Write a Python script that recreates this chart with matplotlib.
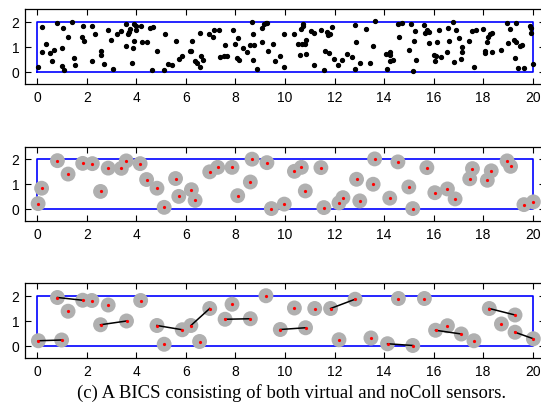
import matplotlib
matplotlib.use("Agg")
import matplotlib.pyplot as plt
import numpy as np
from matplotlib.patches import Circle

# --- panel 1: all random sensors ---
all_x = [0.03, 0.2, 0.19, 0.34, 0.5, 0.67, 0.6, 0.78, 0.99, 1.02, 0.98, 1.09, 1.24, 1.41,
         1.48, 1.53, 1.79, 1.84, 1.87, 2.22, 2.19, 2.34, 2.55, 2.55, 2.69, 2.85, 2.96, 3.04,
         3.23, 3.39, 3.59, 3.58, 3.67, 3.71, 3.74, 3.90, 3.90, 3.86, 3.83, 3.98, 3.97, 4.17,
         4.22, 4.44, 4.53, 4.66, 4.64, 4.83, 5.15, 5.11, 5.28, 5.42, 5.58, 5.71, 5.85, 6.16,
         6.22, 6.25, 6.38, 6.45, 6.56, 6.59, 6.55, 6.69, 6.95, 7.10, 7.15, 7.33, 7.39, 7.53,
         7.66, 7.59, 7.89, 7.97, 8.09, 8.06, 8.16, 8.29, 8.48, 8.60, 8.67, 8.70, 8.76, 8.71,
         8.87, 9.06, 9.14, 9.23, 9.09, 9.26, 9.31,
         9.52, 9.60, 9.78, 9.97, 9.97, 10.38, 10.52, 10.65, 10.62, 10.67, 10.73, 10.74, 10.79,
         10.83, 10.85, 11.04, 11.16, 11.19, 11.45, 11.57, 11.61, 11.69, 11.73, 11.79, 11.83,
         11.88, 11.98, 12.16, 12.32, 12.51, 12.70, 12.81, 12.81, 12.87, 13.02, 13.27, 13.44,
         13.56, 13.62, 14.06, 14.13, 14.25, 14.25, 14.35, 14.26, 14.56, 14.61, 14.73, 15.00,
         15.07, 15.18, 15.22, 15.28, 15.27, 15.63, 15.67, 15.74, 15.81, 15.81, 16.03, 16.09,
         16.06, 16.13, 16.21, 16.31, 16.53, 16.57, 16.64, 16.79, 16.84, 16.89, 17.03, 17.11,
         17.15, 17.16, 17.43, 17.55, 17.63, 17.73, 17.98, 18.06, 18.06, 18.17, 18.21, 18.28,
         18.35, 18.37, 18.71, 18.95, 18.99, 19.10, 19.26, 19.31, 19.31, 19.29, 19.42, 19.49,
         19.56, 19.65, 19.88, 19.92, 19.93, 20.0]
all_y = [0.20, 1.77, 0.80, 1.09, 0.75, 0.88, 0.41, 1.93, 0.94, 1.73, 0.23, 0.07, 1.39, 1.97,
         0.56, 0.26, 1.37, 1.84, 1.22, 0.41, 1.81, 1.52, 0.84, 0.68, 0.30, 1.65, 1.25, 0.12,
         1.50, 1.62, 1.92, 1.01, 1.52, 1.59, 1.71, 1.89, 1.22, 0.94, 0.33, 1.66, 1.84, 1.82,
         1.17, 1.17, 1.73, 1.77, 0.07, 0.82, 1.51, 0.07, 0.30, 0.27, 1.22, 0.50, 0.64, 0.82,
         0.82, 1.22, 0.41, 0.33, 1.55, 0.64, 0.18, 0.46, 1.52, 1.40, 1.66, 1.66, 0.59, 0.61,
         0.64, 1.06, 1.66, 1.12, 1.36, 0.53, 0.46, 0.94, 0.80, 1.07, 2.00, 1.52, 1.06, 0.46,
         0.10, 1.73, 1.89, 1.96, 1.20, 1.93, 0.82,
         1.09, 0.42, 0.64, 1.51, 0.18, 1.51, 1.09, 1.69, 0.68, 1.10, 1.92, 1.81, 1.10,
         1.25, 0.71, 1.62, 1.54, 0.26, 1.66, 0.05, 0.83, 1.59, 1.48, 0.75, 1.51,
         1.78, 0.49, 0.26, 0.45, 0.72, 0.57, 1.88, 0.10, 1.20, 0.33, 1.69, 0.35,
         1.02, 2.01, 0.72, 0.10, 0.80, 0.42, 0.48, 0.67, 1.89, 1.39, 1.93, 0.88,
         1.90, 0.03, 1.24, 0.46, 1.62, 1.88, 1.54, 1.65, 1.59, 1.16, 0.67, 0.61,
         0.44, 1.18, 1.66, 0.57, 0.80, 1.74, 1.24, 2.00, 0.39, 1.65, 1.36, 0.49,
         0.97, 0.80, 1.21, 1.61, 0.20, 1.66, 1.69, 0.83, 0.75, 1.18, 1.40, 1.51,
         1.55, 0.80, 0.87, 1.93, 1.16, 1.69, 1.25, 1.93, 1.18, 0.54, 0.16, 1.02,
         1.07, 0.16, 1.81, 1.55, 1.76, 0.29]

# --- panel 2: virtual sensors ---
virt_x = [0.03, 0.17, 0.81, 1.24, 1.83, 2.22, 2.55, 2.86, 3.39, 3.59, 4.15, 4.41, 4.83,
          5.12, 5.58, 5.71, 6.22, 6.37, 6.96, 7.28, 7.86, 8.09, 8.60, 8.67, 9.27, 9.45,
          9.97, 10.38, 10.66, 10.82, 11.45, 11.57, 12.18, 12.34, 12.89, 13.02, 13.62, 13.56,
          14.23, 14.56, 15.00, 15.16, 15.73, 16.05, 16.56, 16.87, 17.57, 17.46, 18.33, 18.17,
          18.97, 19.11, 19.65, 20.03]
virt_y = [0.20, 0.82, 1.93, 1.39, 1.82, 1.81, 0.69, 1.63, 1.62, 1.92, 1.81, 1.17, 0.82,
          0.05, 1.21, 0.49, 0.76, 0.33, 1.48, 1.66, 1.66, 0.52, 1.07, 1.99, 1.85, 0.0,
          0.18, 1.50, 1.66, 0.71, 1.65, 0.04, 0.23, 0.44, 1.18, 0.31, 2.00, 0.98,
          0.42, 1.88, 0.87, 0.0, 1.65, 0.64, 0.79, 0.39, 1.61, 1.20, 1.52, 1.14,
          1.92, 1.70, 0.16, 0.27]

# --- panel 3: virtual + noColl sensors ---
mix_x = [0.04, 0.98, 0.81, 1.83, 1.24, 2.20, 2.86, 2.55, 3.60, 4.17, 4.83, 5.85, 5.12,
         6.20, 6.96, 6.55, 7.86, 7.58, 8.60, 9.23, 9.81, 10.83, 10.38, 11.20, 11.84, 12.83,
         12.18, 13.47, 14.14, 15.16, 14.58, 15.63, 16.08, 17.12, 16.56, 17.63, 18.25, 19.29,
         18.74, 19.29, 20.03]
mix_y = [0.19, 0.22, 1.92, 1.81, 1.37, 1.80, 1.62, 0.83, 0.98, 1.80, 0.80, 0.63, 0.05,
         0.80, 1.48, 0.16, 1.65, 1.05, 1.07, 1.99, 0.64, 0.71, 1.50, 1.48, 1.48, 1.85,
         0.23, 0.30, 0.07, 0.0, 1.88, 1.88, 0.61, 0.46, 0.79, 0.19, 1.48, 1.22,
         0.86, 0.53, 0.27]
links = [(0, 1), (2, 3), (7, 8), (10, 11), (13, 14), (17, 18), (20, 21), (24, 25),
         (28, 29), (32, 33), (36, 37), (39, 40)]

xticks = list(range(0, 21, 2))
yticks = [0, 1, 2]
field_w, field_h = 20, 2
radius = 0.3
caption = "(c) A BICS consisting of both virtual and noColl sensors."

fig = plt.figure(figsize=(5.41, 4.10), dpi=100)
W, H = 541, 410


def make_ax(top_px, bot_px):
    ax = fig.add_axes([25 / W, 1 - bot_px / H, 520 / W, (bot_px - top_px) / H])
    ax.set_xlim(-0.5, 20.5)
    ax.set_ylim(-0.5, 2.5)
    ax.set_xticks(xticks)
    ax.set_yticks(yticks)
    ax.tick_params(direction="in", top=True, right=True, length=4.5, width=0.8,
                   labelsize=10, pad=4)
    for lab in ax.get_xticklabels() + ax.get_yticklabels():
        lab.set_family("Liberation Sans")
    for s in ax.spines.values():
        s.set_linewidth(0.9)
    # deployment field
    ax.plot([0, field_w, field_w, 0, 0], [0, 0, field_h, field_h, 0],
            color="#0000ff", lw=1.2, zorder=2)
    return ax


ax1 = make_ax(10, 85)
ax1.plot(all_x, all_y, "o", color="black", ms=2.8, zorder=3)

ax2 = make_ax(147.5, 222)
for x, y in zip(virt_x, virt_y):
    ax2.add_patch(Circle((x, y), radius, color="#b0b0b0", lw=0, zorder=3))
ax2.plot(virt_x, virt_y, "o", color="red", ms=2.3, mew=0, zorder=5)

ax3 = make_ax(284, 359)
for x, y in zip(mix_x, mix_y):
    ax3.add_patch(Circle((x, y), radius, color="#b0b0b0", lw=0, zorder=3))
for a, b in links:
    ax3.plot([mix_x[a], mix_x[b]], [mix_y[a], mix_y[b]], color="black", lw=1.1, zorder=4)
ax3.plot(mix_x, mix_y, "o", color="red", ms=2.3, mew=0, zorder=5)

fig.text(292 / W, 1 - 393 / H, caption, ha="center", va="center",
         family="Liberation Serif", fontsize=13.5)

fig.savefig("out.png", dpi=100)
